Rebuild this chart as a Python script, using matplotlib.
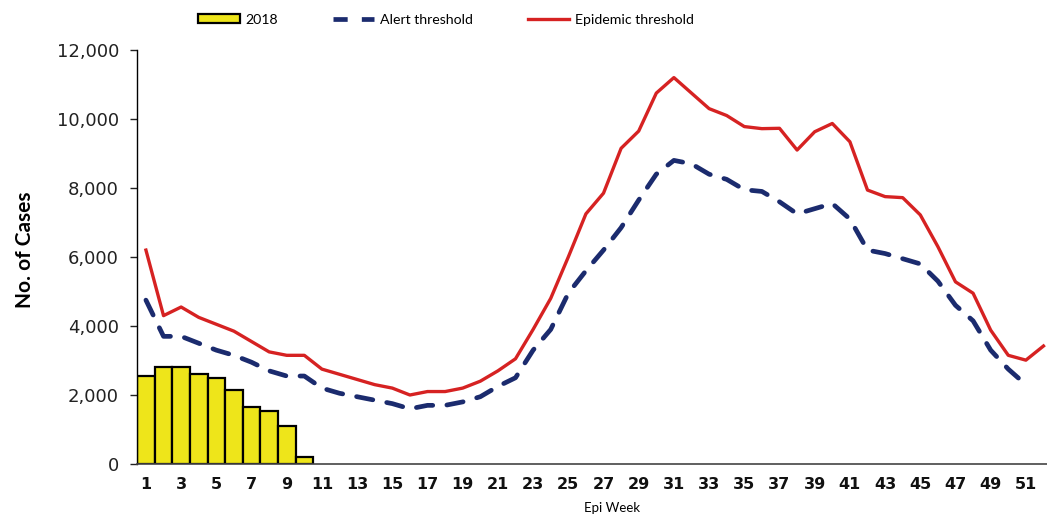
import matplotlib
matplotlib.use("Agg")
import matplotlib.pyplot as plt
from matplotlib.lines import Line2D
from matplotlib.patches import Patch
from matplotlib.ticker import FuncFormatter

# ── data ──────────────────────────────────────────────────────────────────────
bar_weeks = list(range(1, 11))
cases_2018 = [2550, 2800, 2800, 2620, 2500, 2150, 1650, 1550, 1100, 200]

epidemic_weeks = list(range(1, 53))
epidemic_threshold = [
    6200, 4300, 4550, 4250, 4050, 3850, 3550, 3250, 3150, 3150,
    2750, 2600, 2450, 2300, 2200, 2000, 2100, 2100, 2200, 2400,
    2700, 3050, 3900, 4800, 6000, 7250, 7850, 9150, 9650, 10750,
    11200, 10750, 10300, 10100, 9780, 9720, 9730, 9100, 9630, 9870,
    9340, 7940, 7750, 7720, 7220, 6300, 5280, 4950, 3880, 3150,
    3010, 3420,
]

alert_weeks = list(range(1, 52))
alert_threshold = [
    4750, 3700, 3700, 3500, 3300, 3150, 2950, 2700, 2550, 2550,
    2200, 2050, 1950, 1850, 1750, 1600, 1700, 1700, 1800, 1950,
    2250, 2500, 3300, 3900, 4950, 5600, 6200, 6850, 7650, 8400,
    8800, 8700, 8400, 8250, 7950, 7900, 7600, 7250, 7400, 7550,
    7100, 6200, 6100, 5950, 5800, 5300, 4600, 4150, 3300, 2750,
    2300,
]

week_ticks = list(range(1, 52, 2))
y_ticks = [0, 2000, 4000, 6000, 8000, 10000, 12000]

yellow = "#eee51a"
red = "#d62222"
navy = "#1b2b6e"

fig = plt.figure(figsize=(10.47, 5.24), dpi=100)
ax = fig.add_axes([0.1308, 0.1145, 0.8692, 0.7901])

ax.bar(bar_weeks, cases_2018, width=1.0, color=yellow, edgecolor="black",
       linewidth=1.6, zorder=2)
ax.plot(epidemic_weeks, epidemic_threshold, color=red, linewidth=2.4, zorder=3)
ax.plot(alert_weeks, alert_threshold, color=navy, linewidth=3.4,
        dashes=(3.5, 3.0), dash_capstyle="round", zorder=3)

ax.set_xlim(0.49, 52.2)
ax.set_ylim(0, 12000)
ax.set_xticks(week_ticks)
ax.set_yticks(y_ticks)
ax.yaxis.set_major_formatter(FuncFormatter(lambda v, p: f"{int(v):,}"))

for s in ["top", "right"]:
    ax.spines[s].set_visible(False)
ax.spines["left"].set_linewidth(1.0)
ax.spines["bottom"].set_linewidth(1.2)
ax.spines["bottom"].set_color("#444444")

ax.tick_params(axis="y", length=5, width=1, pad=8, labelsize=13, colors="#222222")
ax.tick_params(axis="x", length=0, pad=9, labelsize=11.5, colors="#111111")
for lbl in ax.get_xticklabels():
    lbl.set_fontweight("semibold")

ax.set_ylabel("No. of Cases", fontsize=15, fontweight="bold", family="Lato")
ax.yaxis.set_label_coords(-0.112, 0.517)

fig.text(0.585, 0.03, "Epi Week", fontsize=9.5, family="Lato", ha="center",
         va="center")

handles = [
    Patch(facecolor=yellow, edgecolor="black", linewidth=1.6),
    Line2D([], [], color=navy, linewidth=3.4, dashes=(3.0, 3.0)),
    Line2D([], [], color=red, linewidth=2.4),
]
labels = ["2018", "Alert threshold", "Epidemic threshold"]
fig.legend(handles, labels, loc="center", bbox_to_anchor=(0.426, 0.962),
           ncol=3, frameon=False, prop={"family": "Lato", "size": 10.2},
           handlelength=2.9, handleheight=0.6, columnspacing=3.9,
           handletextpad=0.4)

fig.savefig("out.png", dpi=100)
